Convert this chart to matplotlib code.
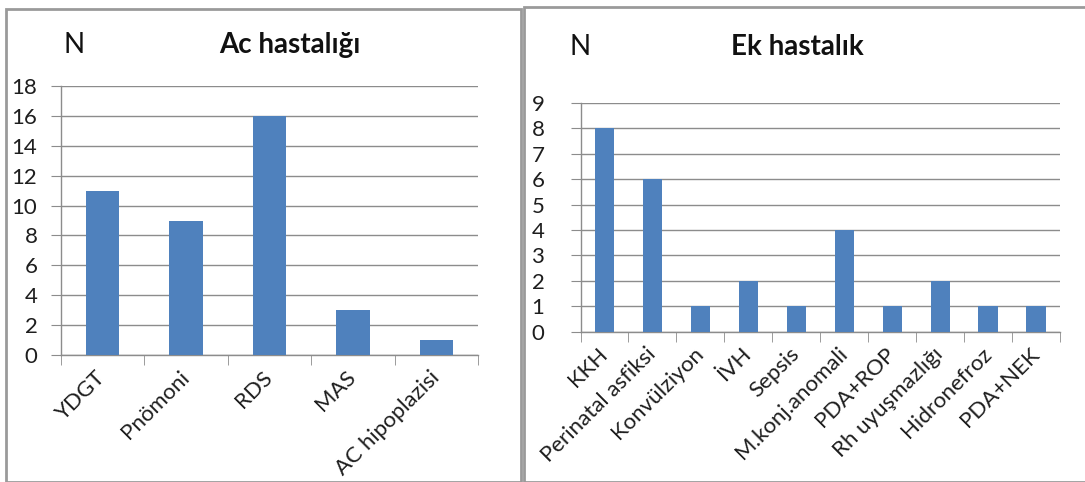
import numpy as np
from matplotlib import pyplot as plt
from matplotlib.patches import Rectangle
from matplotlib.ticker import FixedLocator, NullFormatter

plt.rcParams["font.family"] = ["Lato", "DejaVu Sans"]

# data
ac_labels = ["YDGT", "Pnömoni", "RDS", "MAS", "AC hipoplazisi"]
ac_values = [11, 9, 16, 3, 1]
ac_yticks = [0, 2, 4, 6, 8, 10, 12, 14, 16, 18]

ek_labels = ["KKH", "Perinatal asfiksi", "Konvülziyon", "İVH", "Sepsis",
             "M.konj.anomali", "PDA+ROP", "Rh uyuşmazlığı", "Hidronefroz", "PDA+NEK"]
ek_values = [8, 6, 1, 2, 1, 4, 1, 2, 1, 1]
ek_yticks = [0, 1, 2, 3, 4, 5, 6, 7, 8, 9]

bar_color = "#4F81BD"
grid_color = "#8C8C8C"


def draw_panel(ax, labels, values, yticks, fs_x, ypad):
    n = len(labels)
    x = np.arange(n)
    ax.bar(x, values, width=0.4, color=bar_color, zorder=3)
    ax.set_xlim(-0.5, n - 0.5)
    ax.set_ylim(yticks[0], yticks[-1])
    ax.set_yticks(yticks)
    ax.grid(True, axis="y", color=grid_color, linewidth=1.0, zorder=0)
    for s in ["top", "right"]:
        ax.spines[s].set_visible(False)
    for s in ["left", "bottom"]:
        ax.spines[s].set_color(grid_color)
        ax.spines[s].set_linewidth(1.0)
    ax.tick_params(axis="y", length=7, color=grid_color, labelsize=16, pad=ypad,
                   labelcolor="#1E1E1E")
    # category boundary ticks
    ax.xaxis.set_minor_locator(FixedLocator(np.arange(n + 1) - 0.5))
    ax.xaxis.set_minor_formatter(NullFormatter())
    ax.tick_params(axis="x", which="minor", length=7, color=grid_color)
    ax.set_xticks(x)
    ax.set_xticklabels(labels, rotation=45, ha="right", va="center",
                       rotation_mode="anchor", fontsize=fs_x, color="#1E1E1E")
    ax.tick_params(axis="x", which="major", length=0, pad=14)


fig = plt.figure(figsize=(10.85, 4.82), dpi=100)

# panel frames
fig.patches.append(Rectangle((6 / 1085, 0), 515 / 1085, 1 - 9 / 482,
                             transform=fig.transFigure, fill=False,
                             edgecolor="#9A9A9A", linewidth=2.0))
fig.patches.append(Rectangle((524 / 1085, 0), 600 / 1085, 1 - 7 / 482,
                             transform=fig.transFigure, fill=False,
                             edgecolor="#9A9A9A", linewidth=2.0))

ax1 = fig.add_axes([61 / 1085, 1 - 355 / 482, 417 / 1085, 269 / 482])
draw_panel(ax1, ac_labels, ac_values, ac_yticks, 16, 10)

ax2 = fig.add_axes([580.5 / 1085, 1 - 331.5 / 482, 479.5 / 1085, 228.5 / 482])
draw_panel(ax2, ek_labels, ek_values, ek_yticks, 16, 19)

fig.text(64 / 1085, 1 - 45 / 482, "N", fontsize=20, va="center", ha="left", color="#111111")
fig.text(290 / 1085, 1 - 45 / 482, "Ac hastalığı", fontsize=20, fontweight="bold",
         va="center", ha="center", color="#111111")
fig.text(570 / 1085, 1 - 47 / 482, "N", fontsize=20, va="center", ha="left", color="#111111")
fig.text(797 / 1085, 1 - 47 / 482, "Ek hastalık", fontsize=20, fontweight="bold",
         va="center", ha="center", color="#111111")

plt.savefig("out.png", dpi=100)
plt.close()
